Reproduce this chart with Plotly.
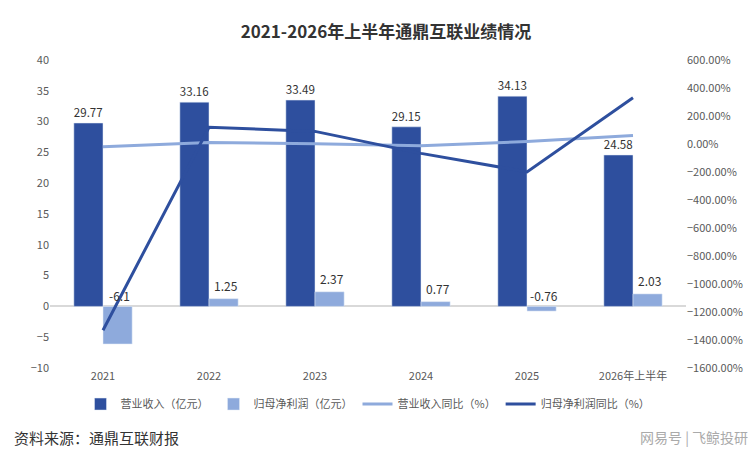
import plotly.graph_objects as go

cats = ["2021", "2022", "2023", "2024", "2025", "2026年上半年"]
revenue = [29.77, 33.16, 33.49, 29.15, 34.13, 24.58]
profit = [-6.1, 1.25, 2.37, 0.77, -0.76, 2.03]
rev_yoy = [-20, 11, 1, -13, 17, 60]
profit_yoy = [-1330, 120, 90, -67, -199, 330]

dark = "#2E4F9E"
light = "#8EAADC"
fig = go.Figure()
fig.add_bar(x=cats, y=revenue, name="营业收入（亿元）", marker_color=dark, text=[f"{v:g}" for v in revenue],
            textposition="outside", textfont=dict(size=12, color="#333"), cliponaxis=False)
fig.add_bar(x=cats, y=profit, name="归母净利润（亿元）", marker_color=light)
fig.add_scatter(x=cats, y=rev_yoy, name="营业收入同比（%）", yaxis="y2", mode="lines",
                line=dict(color=light, width=3))
fig.add_scatter(x=cats, y=profit_yoy, name="归母净利润同比（%）", yaxis="y2", mode="lines",
                line=dict(color=dark, width=3))
for i, (c, v) in enumerate(zip(cats, profit)):
    fig.add_annotation(x=i + 0.16, y=max(v, 0), text=f"{v:g}", showarrow=False, yanchor="bottom",
                       yshift=3 if v >= 0 else 0, font=dict(size=12, color="#333"))
fig.update_layout(
    width=756, height=455, plot_bgcolor="white", paper_bgcolor="white",
    font=dict(family="Noto Sans CJK SC", size=11, color="#595959"),
    title=dict(text="<b>2021-2026年上半年通鼎互联业绩情况</b>", x=0.5, y=0.96, font=dict(size=17, color="#333")),
    barmode="group", bargap=0.45, bargroupgap=0.0,
    margin=dict(l=42, r=78, t=52, b=95),
    xaxis=dict(showline=False, ticks="", tickfont=dict(size=11)),
    yaxis=dict(range=[-10, 40], dtick=5, showgrid=False, zeroline=True, zerolinecolor="#d9d9d9"),
    yaxis2=dict(range=[-1600, 600], dtick=200, overlaying="y", side="right", showgrid=False,
                zeroline=False, ticksuffix=".00%", tickformat="d"),
    legend=dict(orientation="h", x=0.5, xanchor="center", y=-0.07, yanchor="top", font=dict(size=11)),
    showlegend=True,
)
fig.add_annotation(text="资料来源：通鼎互联财报", xref="paper", yref="paper", x=-0.06, y=-0.225,
                   xanchor="left", yanchor="middle", showarrow=False, font=dict(size=15, color="#333"))
fig.add_annotation(text="网易号 | 飞鲸投研", xref="paper", yref="paper", x=1.1, y=-0.225,
                   xanchor="right", yanchor="middle", showarrow=False, font=dict(size=14, color="#aaa"))
fig.write_html("out.html")
